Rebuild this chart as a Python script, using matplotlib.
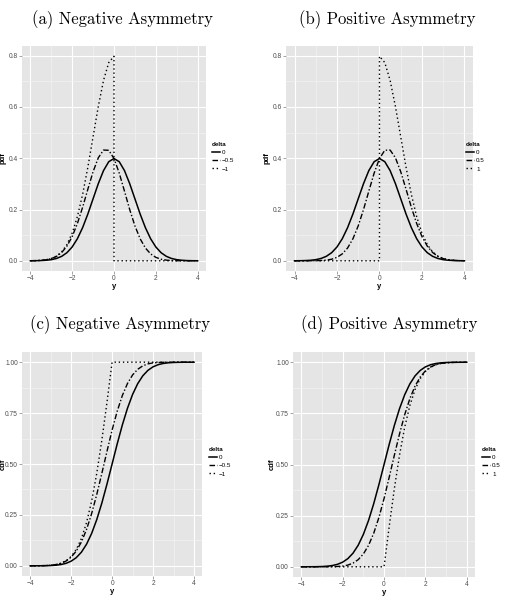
import matplotlib
matplotlib.use('Agg')
import matplotlib.pyplot as plt
from matplotlib.lines import Line2D
from matplotlib.ticker import MultipleLocator

plt.rcParams['font.family'] = ['Liberation Sans', 'DejaVu Sans']

# ---- data ----
y_grid = [-4, -3.75, -3.5, -3.25, -3, -2.75, -2.5, -2.25, -2, -1.75, -1.5, -1.25, -1,
          -0.75, -0.5, -0.25, 0, 0.25, 0.5, 0.75, 1, 1.25, 1.5, 1.75, 2, 2.25, 2.5,
          2.75, 3, 3.25, 3.5, 3.75, 4]
y_left = [-4, -3.75, -3.5, -3.25, -3, -2.75, -2.5, -2.25, -2, -1.75, -1.5, -1.25, -1,
          -0.75, -0.5, -0.25, 0, 0, 4]
y_right = [-4, 0, 0, 0.25, 0.5, 0.75, 1, 1.25, 1.5, 1.75, 2, 2.25, 2.5, 2.75, 3,
           3.25, 3.5, 3.75, 4]
y_left_cdf = [-4, -3.75, -3.5, -3.25, -3, -2.75, -2.5, -2.25, -2, -1.75, -1.5, -1.25, -1,
              -0.75, -0.5, -0.25, 0, 4]
y_right_cdf = [-4, 0, 0.25, 0.5, 0.75, 1, 1.25, 1.5, 1.75, 2, 2.25, 2.5, 2.75, 3,
               3.25, 3.5, 3.75, 4]

pdf_0 = [0.00013, 0.00035, 0.00087, 0.00203, 0.00443, 0.00909, 0.01753, 0.03174, 0.05399,
         0.08628, 0.12952, 0.18265, 0.24197, 0.30114, 0.35207, 0.38667, 0.39894, 0.38667,
         0.35207, 0.30114, 0.24197, 0.18265, 0.12952, 0.08628, 0.05399, 0.03174, 0.01753,
         0.00909, 0.00443, 0.00203, 0.00087, 0.00035, 0.00013]
pdf_m05 = [0.00026, 0.00069, 0.0017, 0.00394, 0.00849, 0.01716, 0.03245, 0.05733, 0.09458,
           0.14561, 0.20899, 0.27937, 0.34754, 0.40202, 0.43205, 0.43104, 0.39894, 0.3423,
           0.27209, 0.20026, 0.1364, 0.08593, 0.05005, 0.02695, 0.0134, 0.00616, 0.00261,
           0.00102, 0.00037, 0.00012, 0.00004, 0.00001, 0.0]
pdf_m1 = [0.00027, 0.0007, 0.00174, 0.00406, 0.00886, 0.01818, 0.03506, 0.06348, 0.10798,
          0.17256, 0.25904, 0.3653, 0.48394, 0.60228, 0.70413, 0.77334, 0.79788, 0.0, 0.0]
pdf_p05 = [0.0, 0.00001, 0.00004, 0.00012, 0.00037, 0.00102, 0.00261, 0.00616, 0.0134,
           0.02695, 0.05005, 0.08593, 0.1364, 0.20026, 0.27209, 0.3423, 0.39894, 0.43104,
           0.43205, 0.40202, 0.34754, 0.27937, 0.20899, 0.14561, 0.09458, 0.05733, 0.03245,
           0.01716, 0.00849, 0.00394, 0.0017, 0.00069, 0.00026]
pdf_p1 = [0.0, 0.0, 0.79788, 0.77334, 0.70413, 0.60228, 0.48394, 0.3653, 0.25904, 0.17256,
          0.10798, 0.06348, 0.03506, 0.01818, 0.00886, 0.00406, 0.00174, 0.0007, 0.00027]

cdf_0 = [0.00003, 0.00009, 0.00023, 0.00058, 0.00135, 0.00298, 0.00621, 0.01222, 0.02275,
         0.04006, 0.06681, 0.10565, 0.15866, 0.22663, 0.30854, 0.40129, 0.5, 0.59871,
         0.69146, 0.77337, 0.84134, 0.89435, 0.93319, 0.95994, 0.97725, 0.98778, 0.99379,
         0.99702, 0.99865, 0.99942, 0.99977, 0.99991, 0.99997]
cdf_m05 = [0.00005, 0.00017, 0.00047, 0.00117, 0.00273, 0.00593, 0.01213, 0.02336, 0.04235,
           0.07237, 0.1167, 0.17774, 0.25611, 0.3498, 0.45406, 0.56195, 0.66667, 0.75932,
           0.83612, 0.89516, 0.93724, 0.96503, 0.98203, 0.99166, 0.9967, 0.9984, 0.9994,
           0.9998, 0.99995, 1.0, 1.0, 1.0, 1.0]
cdf_m1 = [0.00006, 0.00018, 0.00047, 0.00115, 0.0027, 0.00596, 0.01242, 0.02445, 0.0455,
          0.08012, 0.13361, 0.2113, 0.31731, 0.45325, 0.61708, 0.80259, 1.0, 1.0]
cdf_p05 = [0.0, 0.0, 0.0, 0.0, 0.00005, 0.0002, 0.0006, 0.0016, 0.0033, 0.00834, 0.01797,
           0.03497, 0.06276, 0.10484, 0.16388, 0.24068, 0.33333, 0.43805, 0.54594, 0.6502,
           0.74389, 0.82226, 0.8833, 0.92763, 0.95765, 0.97664, 0.98787, 0.99407, 0.99727,
           0.99883, 0.99953, 0.99983, 0.99995]
cdf_p1 = [0.0, 0.0, 0.19741, 0.38292, 0.54675, 0.68269, 0.7887, 0.86639, 0.91988, 0.9545,
          0.97555, 0.98758, 0.99404, 0.9973, 0.99885, 0.99953, 0.99982, 0.99994]

titles = ['(a) Negative Asymmetry', '(b) Positive Asymmetry',
          '(c) Negative Asymmetry', '(d) Positive Asymmetry']
neg_labels = ['0', '\u22120.5', '\u22121']
pos_labels = ['0', '0.5', '1']
pdf_ticks = ['0.0', '0.2', '0.4', '0.6', '0.8']
cdf_ticks = ['0.00', '0.25', '0.50', '0.75', '1.00']

styles = [dict(ls='-', lw=1.1),
          dict(ls=(0, (4, 1.5, 1, 1.5)), lw=1.0),
          dict(ls=(0, (1, 2)), lw=1.0)]

fig = plt.figure(figsize=(5.08, 6.01), dpi=100)


def panel(rect, curves, ylab, ylab_x, yticks, ytl, ylim, minor, legpos, labels):
    ax = fig.add_axes(rect)
    ax.set_facecolor('#E5E5E5')
    for (xs, vs), st in zip(curves, styles):
        ax.plot(xs, vs, color='black', zorder=3, **st)
    ax.set_xlim(-4.4, 4.4)
    ax.set_ylim(*ylim)
    ax.set_xticks([-4, -2, 0, 2, 4])
    ax.set_yticks(yticks)
    ax.set_yticklabels(ytl)
    ax.xaxis.set_minor_locator(MultipleLocator(1))
    ax.yaxis.set_minor_locator(MultipleLocator(minor))
    ax.grid(which='major', color='white', lw=0.8)
    ax.grid(which='minor', color='#F2F2F2', lw=0.5)
    ax.set_axisbelow(True)
    for s in ax.spines.values():
        s.set_visible(False)
    ax.tick_params(which='major', length=2, width=0.5, color='#7F7F7F',
                   labelsize=4.8, labelcolor='#4D4D4D', pad=1)
    ax.tick_params(which='minor', length=0)
    ax.set_xlabel('y', fontsize=5.5, fontweight='bold', labelpad=0.5)
    ax.set_ylabel(ylab, fontsize=5.5, fontweight='bold', va='center')
    ax.yaxis.set_label_coords(ylab_x, 0.5)
    handles = [Line2D([], [], color='black', **st) for st in styles]
    leg = ax.legend(handles, labels, title='delta', loc='upper left',
                    bbox_to_anchor=legpos, bbox_transform=fig.transFigure,
                    frameon=False, fontsize=4.5, title_fontsize=4.5,
                    handlelength=1.3, handletextpad=0.3, labelspacing=0.45,
                    borderpad=0, borderaxespad=0)
    leg._legend_box.align = 'left'
    leg.get_title().set_fontweight('bold')
    return ax


panel([0.0433, 0.549, 0.3622, 0.3745],
      [(y_grid, pdf_0), (y_grid, pdf_m05), (y_left, pdf_m1)],
      'pdf', -0.103, [0, 0.2, 0.4, 0.6, 0.8], pdf_ticks, (-0.04, 0.838), 0.1,
      (212 / 508, 1 - 142 / 601), neg_labels)
panel([0.563, 0.549, 0.368, 0.3745],
      [(y_grid, pdf_0), (y_grid, pdf_p05), (y_right, pdf_p1)],
      'pdf', -0.104, [0, 0.2, 0.4, 0.6, 0.8], pdf_ticks, (-0.04, 0.838), 0.1,
      (466 / 508, 1 - 142 / 601), pos_labels)
panel([0.0433, 0.0416, 0.3547, 0.3727],
      [(y_grid, cdf_0), (y_grid, cdf_m05), (y_left_cdf, cdf_m1)],
      'cdf', -0.106, [0, 0.25, 0.5, 0.75, 1.0], cdf_ticks, (-0.05, 1.05), 0.125,
      (209 / 508, 1 - 447 / 601), neg_labels)
panel([0.577, 0.0399, 0.358, 0.3744],
      [(y_grid, cdf_0), (y_grid, cdf_p05), (y_right_cdf, cdf_p1)],
      'cdf', -0.115, [0, 0.25, 0.5, 0.75, 1.0], cdf_ticks, (-0.05, 1.05), 0.125,
      (482 / 508, 1 - 447 / 601), pos_labels)

title_pos = [(122 / 508, 1 - 20 / 601), (387 / 508, 1 - 20 / 601),
             (120 / 508, 1 - 325 / 601), (389 / 508, 1 - 325 / 601)]
for t, (tx, ty) in zip(titles, title_pos):
    fig.text(tx, ty, t, family='cmr10', fontsize=12, ha='center', va='center')

fig.savefig('out.png', dpi=100)
